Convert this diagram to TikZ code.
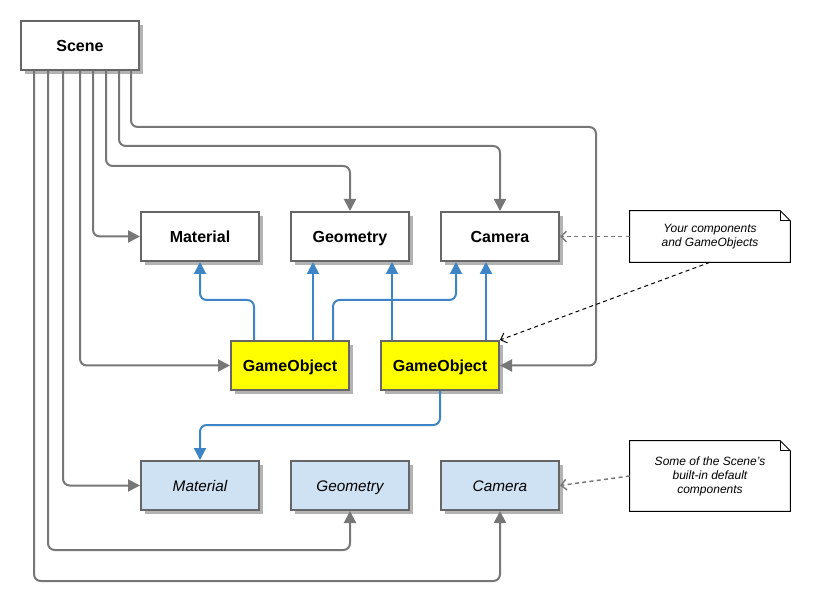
\documentclass[tikz,border=0pt]{standalone}
\usepackage{fontspec}
\setmainfont{Liberation Sans}
\usetikzlibrary{arrows.meta,shadows,calc}
\definecolor{bordergray}{HTML}{666666}
\definecolor{linegray}{HTML}{777777}
\definecolor{shadowgray}{HTML}{B3B3B3}
\definecolor{linkblue}{HTML}{3D85C6}
\definecolor{paleblue}{HTML}{CFE2F3}
\definecolor{goyellow}{HTML}{FFFF00}
\begin{document}
\begin{tikzpicture}[x=0.75pt,y=-0.75pt,
  box/.style={draw=bordergray,line width=1.5pt,fill=white,minimum width=88.5pt,minimum height=36.75pt,inner sep=0pt,
    text height=8.6pt,text depth=0pt,
    font=\bfseries\fontsize{12}{14}\selectfont,
    drop shadow={shadow xshift=3pt,shadow yshift=-3pt,fill=shadowgray,opacity=1}},
  gobox/.style={box,fill=goyellow},
  defbox/.style={box,fill=paleblue,font=\itshape\fontsize{11.5}{13}\selectfont},
  notebox/.style={minimum width=120pt,inner sep=0pt,align=center,font=\itshape\fontsize{9}{10.5}\selectfont},
  notedraw/.style={draw=black,line width=0.75pt,fill=white},
  conn/.style={draw=linegray,line width=1.5pt,rounded corners=5pt,-{Triangle[length=9pt,width=9pt]}},
  bconn/.style={draw=linkblue,line width=1.5pt,rounded corners=5pt,-{Triangle[length=9pt,width=9pt]}},
  dconn/.style={draw=linegray,line width=1.1pt,dash pattern=on 3pt off 2.5pt,-{Straight Barb[length=4pt,width=8pt]}},
  tconn/.style={draw=black,line width=0.75pt,dash pattern=on 3pt off 2.5pt,-{Straight Barb[length=4pt,width=8pt]}}]
\useasboundingbox (0,0) rectangle (815,606);

% notes
\node[notebox,minimum height=38.25pt] (n1) at (710,236.5) {};
\draw[notedraw] (n1.north west) -- ($(n1.north east)+(-10,0)$) -- ($(n1.north east)+(0,10)$) -- (n1.south east) -- (n1.south west) -- cycle;
\draw[black,line width=0.75pt] ($(n1.north east)+(-10,0)$) -- ($(n1.north east)+(-10,10)$) -- ($(n1.north east)+(0,10)$);
\node[notebox] (t1) at (n1.center) {Your components\\and GameObjects};

\node[notebox,minimum height=52.5pt] (n2) at (710,476) {};
\draw[notedraw] (n2.north west) -- ($(n2.north east)+(-10,0)$) -- ($(n2.north east)+(0,10)$) -- (n2.south east) -- (n2.south west) -- cycle;
\draw[black,line width=0.75pt] ($(n2.north east)+(-10,0)$) -- ($(n2.north east)+(-10,10)$) -- ($(n2.north east)+(0,10)$);
\node[notebox] (t2) at (n2.center) {Some of the Scene's\\built-in default\\components};

% boxes
\node[box] (scene) at (80,45.5) {Scene};
\node[box] (mat) at (200,236.5) {Material};
\node[box] (geo) at (350,236.5) {Geometry};
\node[box] (cam) at (500,236.5) {Camera};
\node[gobox] (go1) at (290,365.5) {GameObject};
\node[gobox] (go2) at (440,365.5) {GameObject};
\node[defbox] (mat2) at (200,485.5) {Material};
\node[defbox] (geo2) at (350,485.5) {Geometry};
\node[defbox] (cam2) at (500,485.5) {Camera};

% gray connectors
\draw[conn] (131,0 |- scene.south) -- (131,127) -- (596,127) -- (596,0 |- go2.east) -- (go2.east);
\draw[conn] (119,0 |- scene.south) -- (119,146) -- (500,146) -- (cam.north);
\draw[conn] (106,0 |- scene.south) -- (106,166) -- (350,166) -- (geo.north);
\draw[conn] (93,0 |- scene.south) -- (93,0 |- mat.west) -- (mat.west);
\draw[conn] (80,0 |- scene.south) -- (80,0 |- go1.west) -- (go1.west);
\draw[conn] (63,0 |- scene.south) -- (63,0 |- mat2.west) -- (mat2.west);
\draw[conn] (48,0 |- scene.south) -- (48,550) -- (350,550) -- (geo2.south);
\draw[conn] (34,0 |- scene.south) -- (34,581) -- (500,581) -- (cam2.south);

% blue connectors
\draw[bconn] (254,0 |- go1.north) -- (254,300) -- (200,300) -- (mat.south);
\draw[bconn] (313,0 |- go1.north) -- (313,0 |- geo.south);
\draw[bconn] (333,0 |- go1.north) -- (333,300) -- (456,300) -- (456,0 |- cam.south);
\draw[bconn] (392,0 |- go2.north) -- (392,0 |- geo.south);
\draw[bconn] (486,0 |- go2.north) -- (486,0 |- cam.south);
\draw[bconn] (go2.south) -- (440,425) -- (200,425) -- (mat2.north);

% note connectors
\draw[dconn] (n1.west) -- (cam.east);
\draw[tconn] (n1.south) -- (go2.north east);
\draw[dconn] (n2.west) -- (cam2.east);
\end{tikzpicture}
\end{document}
